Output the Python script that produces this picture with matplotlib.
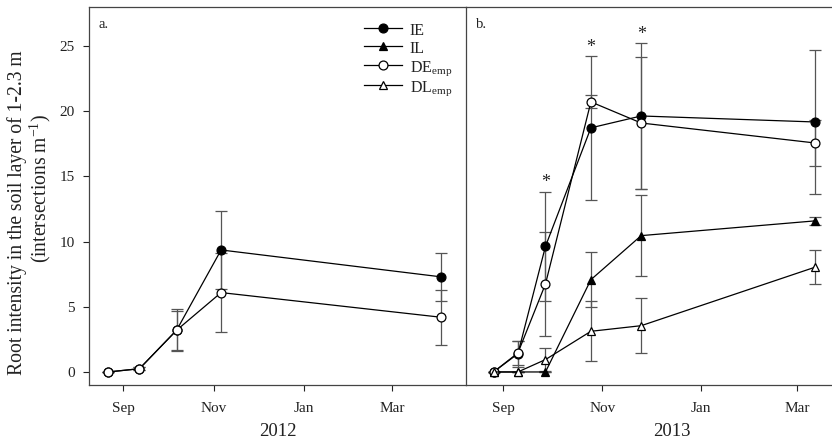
import numpy as np
import matplotlib
matplotlib.use("Agg")
import matplotlib.pyplot as plt
import matplotlib.dates as mdates
from matplotlib.lines import Line2D
from datetime import date

plt.rcParams['font.family'] = ['Liberation Serif', 'DejaVu Serif']
plt.rcParams['mathtext.fontset'] = 'custom'
plt.rcParams['mathtext.rm'] = 'Liberation Serif'
plt.rcParams['mathtext.it'] = 'Liberation Serif:italic'

# 2012 season (only IE and DE measured)
dates12 = [date(2012, 8, 22), date(2012, 9, 12), date(2012, 10, 7),
           date(2012, 11, 6), date(2013, 4, 3)]
ie12 = [0.0, 0.25, 3.2, 9.36, 7.3]
ie12_err = [0.0, 0.1, 1.6, 2.97, 1.85]
de12 = [0.0, 0.25, 3.2, 6.09, 4.2]
de12_err = [0.0, 0.1, 1.5, 3.05, 2.1]

# 2013 season
dates13 = [date(2013, 8, 26), date(2013, 9, 10), date(2013, 9, 27),
           date(2013, 10, 25), date(2013, 11, 25), date(2014, 3, 12)]
ie13 = [0.0, 1.4, 9.64, 18.73, 19.64, 19.18]
ie13_err = [0.0, 1.0, 4.17, 5.5, 5.6, 5.5]
il13 = [0.0, 0.0, 0.0, 7.08, 10.46, 11.59]
il13_err = [0.0, 0.0, 0.0, 2.1, 3.1, 0.3]
de13 = [0.0, 1.46, 6.75, 20.72, 19.1, 17.57]
de13_err = [0.0, 0.9, 4.0, 0.5, 5.1, 1.74]
dl13 = [0.0, 0.0, 0.95, 3.12, 3.55, 8.03]
dl13_err = [0.0, 0.0, 0.9, 2.3, 2.1, 1.3]

# significance marks (index into dates13, height)
stars_idx = [2, 3, 4]
stars_y = [14.5, 24.9, 25.9]

txt = '#222222'
ecol = '#555555'

fig = plt.figure(figsize=(8.32, 4.43), dpi=100)
ax1 = fig.add_axes([89/832, 58/443, 377/832, 378/443])
ax2 = fig.add_axes([466/832, 58/443, 412/832, 378/443])
ax2.patch.set_visible(False)

def series(ax, x, y, err, marker, face):
    # error bars underneath, line + markers on top
    ax.errorbar(x, y, yerr=err, fmt='none', ecolor=ecol, elinewidth=0.9,
                capsize=4, capthick=0.9, zorder=2)
    ax.plot(x, y, color='black', lw=0.9, marker=marker, ms=6.4,
            mfc=face, mec='black', mew=0.9, zorder=3)

series(ax1, dates12, ie12, ie12_err, 'o', 'black')
series(ax1, dates12, de12, de12_err, 'o', 'white')

series(ax2, dates13, ie13, ie13_err, 'o', 'black')
series(ax2, dates13, il13, il13_err, '^', 'black')
series(ax2, dates13, de13, de13_err, 'o', 'white')
series(ax2, dates13, dl13, dl13_err, '^', 'white')
for i, sy in zip(stars_idx, stars_y):
    ax2.text(dates13[i], sy, '*', ha='center', va='center', fontsize=13, color=txt)

for ax, y0 in [(ax1, 2012), (ax2, 2013)]:
    ax.set_xlim(date(y0, 8, 9), date(y0 + 1, 4, 20))
    ax.set_ylim(-1, 28)
    ax.xaxis.set_major_locator(mdates.MonthLocator(bymonth=[9, 11, 1, 3]))
    ax.xaxis.set_major_formatter(mdates.DateFormatter('%b'))
    ax.tick_params(direction='out', length=4, width=0.8, labelsize=11, colors=txt, pad=8)
    for s in ax.spines.values():
        s.set_color('#444444')
        s.set_linewidth(0.9)
    ax.set_xlabel(str(y0), fontsize=13.5, color=txt, labelpad=6)

ax1.set_yticks([0, 5, 10, 15, 20, 25])
ax1.tick_params(axis='y', pad=6)
# y label as two lines, second line sits a bit higher as in the original
fig.text(17/832, 1 - 213/443, 'Root intensity in the soil layer of 1-2.3 m',
         rotation=90, ha='center', va='center', fontsize=14.1, color=txt)
fig.text(40/832, 1 - 189/443, '(intersections m$^{-1}$)',
         rotation=90, ha='center', va='center', fontsize=14.1, color=txt)
ax2.tick_params(axis='y', left=False, labelleft=False)
ax2.spines['right'].set_visible(False)
ax2.spines['left'].set_visible(False)

ax1.text(0.025, 0.97, 'a.', transform=ax1.transAxes, va='top', fontsize=10.5, color=txt)
ax2.text(0.025, 0.97, 'b.', transform=ax2.transAxes, va='top', fontsize=10.5, color=txt)

labels = ['IE', 'IL', r'DE$_{\mathrm{emp}}$', r'DL$_{\mathrm{emp}}$']
markers = ['o', '^', 'o', '^']
faces = ['black', 'black', 'white', 'white']
handles = [Line2D([], [], color='black', lw=0.9, marker=m, ms=6.4, mfc=f, mec='black', mew=0.9)
           for m, f in zip(markers, faces)]
leg = ax1.legend(handles, labels, loc='upper left', bbox_to_anchor=(0.69, 1.0), frameon=False,
                 fontsize=11.5, handlelength=2.4, handleheight=1.3, labelspacing=0.0,
                 handletextpad=0.5)
for t in leg.get_texts():
    t.set_color(txt)

fig.savefig('out.png', dpi=100)
